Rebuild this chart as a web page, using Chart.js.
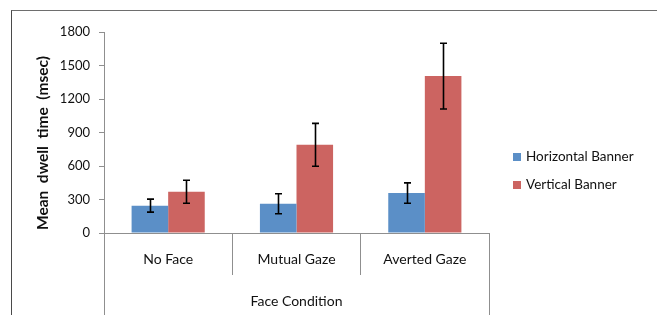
<!DOCTYPE html>
<html>
<head>
<meta charset="utf-8">
<script src="https://cdn.jsdelivr.net/npm/chart.js@4/dist/chart.umd.min.js"></script>
<style>
  body { margin: 0; background: #fff; }
  #wrap { position: relative; width: 657px; height: 315px; }
  #frame { position: absolute; left: 11px; top: 10px; right: 0; bottom: 0;
           border-top: 1px solid #6e6e6e; border-left: 1px solid #4a4a4a; pointer-events: none; }
  #legend { position: absolute; left: 513px; top: 148px; font: 13.5px Lato, sans-serif; color: #111; }
  #legend div { height: 28px; display: flex; align-items: flex-start; }
  #legend span.box { width: 8px; height: 8px; margin: 5px 5px 0 0; }
</style>
</head>
<body>
<div id="wrap">
  <canvas id="chart"></canvas>
  <div id="frame"></div>
  <div id="legend"></div>
</div>
<script>
// categories & values
const categories = ['No Face', 'Mutual Gaze', 'Averted Gaze'];
const horizontalBanner = [245, 262, 358];
const horizontalErr = [58, 90, 91];
const verticalBanner = [370, 790, 1405];
const verticalErr = [103, 192, 294];
const yTicks = [0, 300, 600, 900, 1200, 1500, 1800];

const COLOR_BLUE = '#5b8fc7';
const COLOR_RED = '#cc6461';
const AXIS_GRAY = '#8f8f8f';
const TEXT = '#111';

const errors = [horizontalErr, verticalErr];

// same rounding chart.js uses for 1px lines
const align1px = px => Math.round(px - 0.5) + 0.5;

// error bars drawn on top of every bar
const errorBars = {
  id: 'errorBars',
  afterDatasetsDraw(chart) {
    const { ctx, scales: { y } } = chart;
    ctx.save();
    ctx.strokeStyle = '#000';
    ctx.lineWidth = 1.6;
    chart.data.datasets.forEach((ds, i) => {
      chart.getDatasetMeta(i).data.forEach((bar, j) => {
        const v = ds.data[j], e = errors[i][j];
        const x = Math.round(bar.x) + 0.5;
        const top = y.getPixelForValue(v + e), bot = y.getPixelForValue(v - e);
        ctx.beginPath();
        ctx.moveTo(x, top); ctx.lineTo(x, bot);
        ctx.moveTo(x - 3.5, top); ctx.lineTo(x + 3.5, top);
        ctx.moveTo(x - 3.5, bot); ctx.lineTo(x + 3.5, bot);
        ctx.stroke();
      });
    });
    ctx.restore();
  }
};

// outer lines of the grouped category axis + y title
const axisExtras = {
  id: 'axisExtras',
  afterDraw(chart) {
    const { ctx, chartArea, scales: { x } } = chart;
    ctx.save();
    ctx.strokeStyle = AXIS_GRAY;
    ctx.lineWidth = 1;
    ctx.beginPath();
    [x.left, x.right].forEach(px => {
      const p = align1px(px);
      ctx.moveTo(p, chartArea.bottom);
      ctx.lineTo(p, chart.height);
    });
    ctx.stroke();

    ctx.translate(43, 143);
    ctx.rotate(-Math.PI / 2);
    ctx.fillStyle = TEXT;
    ctx.font = 'bold 15.5px Lato';
    ctx.textAlign = 'center';
    ctx.textBaseline = 'middle';
    ctx.fillText('Mean  dwell  time  (msec)', 0, 0);
    ctx.restore();
  }
};

// inner category separators only; the outer two are drawn full height by axisExtras
const separatorColor = c => (c.index === 0 || c.index === categories.length) ? 'rgba(0,0,0,0)' : AXIS_GRAY;

const chart = new Chart(document.getElementById('chart'), {
  type: 'bar',
  data: {
    labels: categories,
    datasets: [
      { label: 'Horizontal Banner', data: horizontalBanner, backgroundColor: COLOR_BLUE },
      { label: 'Vertical Banner', data: verticalBanner, backgroundColor: COLOR_RED }
    ]
  },
  options: {
    responsive: true,
    maintainAspectRatio: false,
    animation: false,
    layout: { padding: { top: 32, right: 168, bottom: 0, left: 0 } },
    datasets: { bar: { barPercentage: 1, categoryPercentage: 0.57 } },
    plugins: { legend: { display: false }, tooltip: { enabled: false } },
    scales: {
      x: {
        grid: { display: true, drawOnChartArea: false, drawTicks: true, tickLength: 42, offset: true, color: separatorColor, tickColor: separatorColor },
        border: { display: true, color: AXIS_GRAY, width: 1 },
        ticks: { color: TEXT, font: { family: 'Lato', size: 14 }, padding: -24.4 },
        title: { display: true, text: 'Face Condition', color: TEXT, font: { family: 'Lato', size: 14 }, padding: { top: 0, bottom: 5 } },
        afterFit: s => { s.height = 82; }
      },
      y: {
        min: 0,
        max: 1800,
        afterBuildTicks: s => { s.ticks = yTicks.map(v => ({ value: v })); },
        grid: { display: true, drawOnChartArea: false, drawTicks: true, tickLength: 5, color: AXIS_GRAY },
        border: { display: true, color: AXIS_GRAY, width: 1 },
        ticks: { color: TEXT, font: { family: 'Lato', size: 13 }, padding: 9, callback: v => String(v) },
        afterFit: s => { s.width = 104; }
      }
    }
  },
  plugins: [errorBars, axisExtras]
});

// legend from the datasets
const legend = document.getElementById('legend');
chart.data.datasets.forEach(ds => {
  const row = document.createElement('div');
  row.innerHTML = `<span class="box" style="background:${ds.backgroundColor}"></span><span>${ds.label}</span>`;
  legend.appendChild(row);
});
</script>
</body>
</html>
